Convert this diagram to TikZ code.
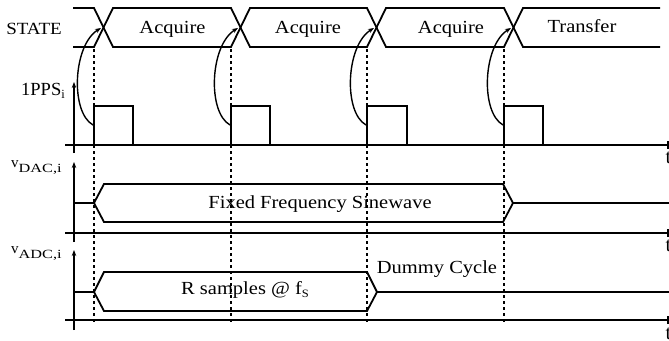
\documentclass[tikz,border=0pt]{standalone}
\usepackage{fontspec}
\usepackage{graphicx}
\setmainfont{Liberation Serif}
\usetikzlibrary{arrows.meta}
\newcommand\vsq[1]{\scalebox{1}[0.9]{#1}}
\newcommand\subtxt[1]{\raisebox{-3.5pt}{\fontsize{12.5}{13}\selectfont #1}}
\newcommand\subwide[1]{\raisebox{-5pt}{\scalebox{1.3}[1]{\fontsize{12.5}{13}\selectfont #1}}}
\begin{document}
\begin{tikzpicture}[x=1pt,y=-1pt,
  sig/.style={line width=1.8pt, line join=miter},
  axisline/.style={line width=1.5pt},
  vline/.style={line width=1.7pt, dash pattern=on 3pt off 3pt},
  lbl/.style={font=\fontsize{20.5}{22}\selectfont, inner sep=0pt, anchor=base},
  arr/.style={line width=1.4pt,-{Stealth[length=6pt,width=4.5pt]}}]
\useasboundingbox (0,0) rectangle (669,340);

% ---- STATE row
\draw[sig] (73,8) -- (94,8) -- (113,47) -- (231,47) -- (250,8) -- (367,8) -- (386,47) -- (504,47) -- (523,8) -- (660,8);
\draw[sig] (73,47) -- (94,47) -- (113,8) -- (231,8) -- (250,47) -- (367,47) -- (386,8) -- (504,8) -- (523,47) -- (660,47);
\node[lbl, font=\fontsize{19}{21}\selectfont] (state) at (34,34.5) {\vsq{STATE}};
\node[lbl] (acq1) at (172.5,33.7) {\vsq{Acquire}};
\node[lbl] (acq2) at (308,33.7) {\vsq{Acquire}};
\node[lbl] (acq3) at (451,33.7) {\vsq{Acquire}};
\node[lbl] (trans) at (582,32) {\vsq{Transfer}};
\coordinate (x1) at (101,28);
\coordinate (x2) at (238,28);
\coordinate (x3) at (374,28);
\coordinate (x4) at (511,28);

% ---- 1PPS row
\node[lbl, anchor=base west, font=\fontsize{18.5}{20}\selectfont] (pps) at (21,95) {1PPS\subtxt{i}};
\draw[arr] (74,153) -- (74,82);
\draw[axisline] (65,145) -- (668,145);
\draw[axisline] (668,141) -- (668,149);
\node[lbl, anchor=base west] (t1) at (665.5,163) {t};
\draw[sig] (94,145) -- (94,106) -- (133,106) -- (133,145);
\draw[sig] (231,145) -- (231,106) -- (270,106) -- (270,145);
\draw[sig] (367,145) -- (367,106) -- (407,106) -- (407,145);
\draw[sig] (504,145) -- (504,106) -- (543,106) -- (543,145);
\coordinate (p1) at (93,125);
\coordinate (p2) at (230,125);
\coordinate (p3) at (366,125);
\coordinate (p4) at (503,125);
\draw[arr] (p1) .. controls (70,112) and (73,45) .. (x1);
\draw[arr] (p2) .. controls (207,112) and (210,45) .. (x2);
\draw[arr] (p3) .. controls (343,112) and (346,45) .. (x3);
\draw[arr] (p4) .. controls (480,112) and (483,45) .. (x4);

% ---- DAC row
\node[lbl, anchor=base west, font=\fontsize{15}{16}\selectfont] (dac) at (11,167) {v\subwide{DAC,i}};
\draw[arr] (74,242) -- (74,162);
\draw[axisline] (65,233) -- (668,233);
\draw[axisline] (668,229) -- (668,237);
\node[lbl, anchor=base west] (t2) at (665.5,251) {t};
\draw[sig] (74,203) -- (94,203) -- (104,184) -- (503,184) -- (513,203) -- (669,203);
\draw[sig] (94,203) -- (104,222) -- (503,222) -- (513,203);
\node[lbl] (sine) at (320,208) {\vsq{Fixed Frequency Sinewave}};

% ---- ADC row
\node[lbl, anchor=base west, font=\fontsize{15}{16}\selectfont] (adc) at (11,253) {v\subwide{ADC,i}};
\draw[arr] (74,330) -- (74,250);
\draw[axisline] (65,320) -- (668,320);
\draw[axisline] (668,316) -- (668,324);
\node[lbl, anchor=base west] (t3) at (665.5,339) {t};
\draw[sig] (74,292) -- (94,292) -- (104,272) -- (367,272) -- (377,292) -- (669,292);
\draw[sig] (94,292) -- (104,311) -- (367,311) -- (377,292);
\node[lbl] (rs) at (245,294.7) {\vsq{R samples @ f\subtxt{S}}};
\node[lbl] (dummy) at (437,273.3) {\vsq{Dummy Cycle}};

% ---- dotted markers
\draw[vline] (94,49) -- (94,322);
\draw[vline] (231,49) -- (231,322);
\draw[vline] (367,49) -- (367,322);
\draw[vline] (504,49) -- (504,322);
\end{tikzpicture}
\end{document}
